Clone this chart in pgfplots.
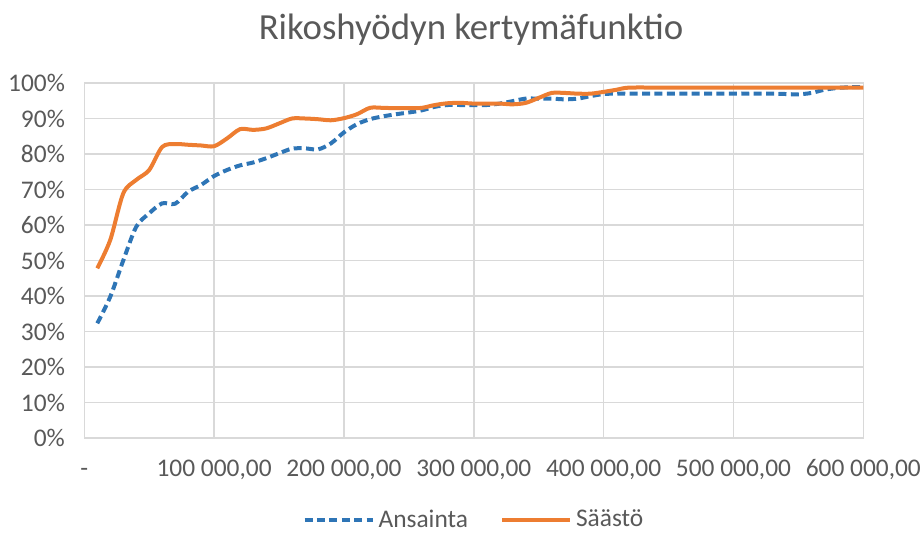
\documentclass[border=0pt]{standalone}
\usepackage{pgfplots}
\pgfplotsset{compat=1.18}
\usepackage{pgfplotstable}
\usepackage{fontspec}
\setmainfont{Carlito}
\definecolor{txt}{HTML}{595959}
\definecolor{gridc}{HTML}{D9D9D9}
\definecolor{cblue}{HTML}{2E75B6}
\definecolor{corange}{HTML}{ED7D31}

\pgfplotstableread{
x y
10000 32.3
20000 39.8
30000 50.0
40000 59.5
50000 63.3
60000 66.1
70000 66.0
80000 69.4
90000 71.3
100000 73.8
110000 75.5
120000 76.8
130000 77.6
140000 78.8
150000 80.2
160000 81.5
170000 81.6
180000 81.3
190000 83.0
200000 86.1
210000 88.4
220000 89.8
230000 90.6
240000 91.2
250000 91.7
260000 92.3
270000 93.3
280000 93.8
290000 93.8
300000 93.8
310000 93.8
320000 94.2
330000 94.9
340000 95.6
350000 95.6
360000 95.6
370000 95.4
380000 95.6
390000 96.3
400000 96.9
410000 97.0
420000 97.0
450000 97.0
500000 97.0
530000 97.0
540000 96.9
550000 96.8
560000 97.2
570000 98.1
580000 98.6
590000 98.8
600000 98.8
}\ansainta

\pgfplotstableread{
x y
10000 47.8
20000 55.8
30000 68.9
40000 72.7
50000 75.5
60000 82.0
70000 82.8
80000 82.6
90000 82.4
100000 82.2
110000 84.4
120000 87.0
130000 86.8
140000 87.2
150000 88.6
160000 90.0
170000 90.0
180000 89.8
190000 89.5
200000 90.1
210000 91.2
220000 93.0
230000 93.0
240000 92.9
250000 92.9
260000 93.0
270000 93.8
280000 94.3
290000 94.4
300000 94.2
310000 94.2
320000 94.2
330000 94.0
340000 94.4
350000 95.8
360000 97.2
370000 97.2
380000 97.0
390000 97.0
400000 97.5
410000 98.1
420000 98.7
450000 98.7
500000 98.7
550000 98.7
600000 98.7
}\saasto

\begin{document}
\begin{tikzpicture}
\useasboundingbox (0,0) rectangle (460.5pt,266pt);
\node[text=txt, font=\fontsize{18.4}{22}\selectfont] at (235.5pt,251pt) {Rikoshyödyn kertymäfunktio};
\begin{axis}[
  at={(42.15pt,47pt)}, anchor=south west,
  scale only axis, width=389.5pt, height=177.5pt,
  xmin=0, xmax=600000, ymin=0, ymax=100,
  xtick={0,100000,200000,300000,400000,500000,600000},
  xticklabels={{-},{100 000,00},{200 000,00},{300 000,00},{400 000,00},{500 000,00},{600 000,00}},
  ytick={0,10,20,30,40,50,60,70,80,90,100},
  yticklabels={{0\%},{10\%},{20\%},{30\%},{40\%},{50\%},{60\%},{70\%},{80\%},{90\%},{100\%}},
  scaled x ticks=false,
  major tick length=0pt,
  xmajorgrids, ymajorgrids,
  grid style={draw=gridc, line width=0.75pt},
  axis line style={draw=gridc, line width=0.75pt},
  tick label style={text=txt, font=\fontsize{12.7}{15}\selectfont},
  xticklabel style={anchor=base, inner sep=0pt, yshift=-19pt},
  yticklabel style={anchor=east, inner sep=0pt, xshift=-9.5pt},
  legend style={at={(0.5015,-0.231)}, anchor=center, draw=none, fill=none,
    legend columns=2, font=\fontsize{12.7}{15}\selectfont, text=txt,
    /tikz/every even column/.append style={column sep=14pt}},
  legend cell align=left,
  legend image code/.code={\draw[#1] (0pt,0pt) -- (34pt,0pt);},
]
\addplot[cblue, line width=2pt, dash pattern=on 4pt off 2.2pt, smooth, tension=0.5] table[x=x,y=y] {\ansainta};
\addlegendentry{Ansainta}
\addplot[corange, line width=2pt, smooth, tension=0.5] table[x=x,y=y] {\saasto};
\addlegendentry{Säästö}
\end{axis}
\end{tikzpicture}
\end{document}
